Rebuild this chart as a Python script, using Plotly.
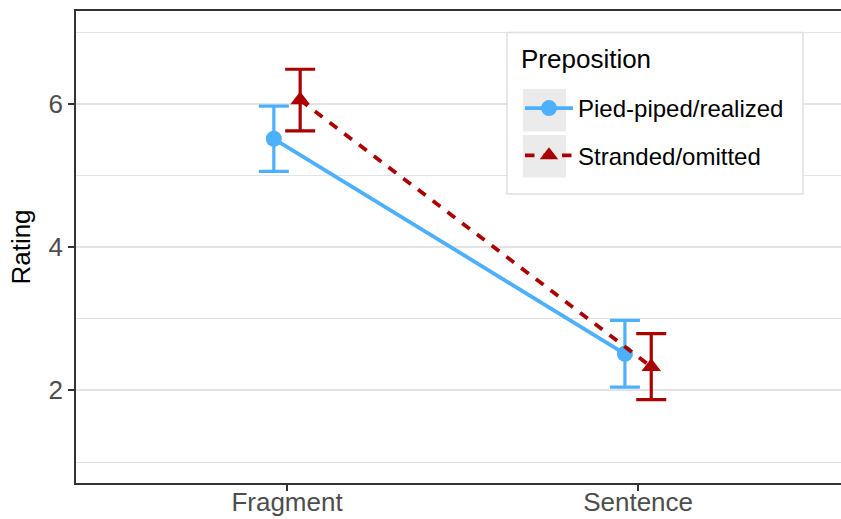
import plotly.graph_objects as go

categories = ["Fragment", "Sentence"]
series_names = ["Pied-piped/realized", "Stranded/omitted"]
pied_mean = [5.51, 2.51]
pied_err = [0.455, 0.465]
strand_mean = [6.05, 2.33]
strand_err = [0.43, 0.46]
y_ticks = [2, 4, 6]
legend_title = "Preposition"

colors = ["#4DB0FF", "#AA0000"]
dodge = 0.0375
FONT = "Liberation Sans, Arial, sans-serif"
L, R, T, B, W, H = 76, 0, 11, 36, 841, 519
PW, PH = W - L - R, H - T - B


def px(x):
    return (x - L) / PW


def py(y):
    return (H - B - y) / PH


fig = go.Figure()
specs = [
    (series_names[0], pied_mean, pied_err, colors[0], "circle", 16, "solid", -dodge),
    (series_names[1], strand_mean, strand_err, colors[1], "triangle-up", 17, "9.5px,9px", dodge),
]
for name, mean, err, col, sym, msize, dash, off in specs:
    xs = [i + 1 + off for i in range(len(categories))]
    fig.add_trace(go.Scatter(
        x=xs, y=mean, name=name, legendgroup=name,
        mode="lines+markers",
        line=dict(color=col, width=3.8, dash=dash),
        marker=dict(symbol=sym, size=msize, color=col),
        error_y=dict(type="data", array=err, visible=True, color=col,
                     thickness=3.2, width=15),
    ))

# legend box and key backgrounds (styling)
fig.add_shape(type="rect", xref="paper", yref="paper",
              x0=px(507), x1=px(803), y0=py(194), y1=py(32.5),
              line=dict(color="#E0E0E0", width=1.5), fillcolor="white", layer="above")
for top, bot in [(89, 131.5), (135, 177.5)]:
    fig.add_shape(type="rect", xref="paper", yref="paper",
                  x0=px(523), x1=px(566), y0=py(bot), y1=py(top),
                  line=dict(width=0), fillcolor="#EBEBEB", layer="above")
fig.add_annotation(text=legend_title, xref="paper", yref="paper",
                   x=px(519), y=py(59), xanchor="left", yanchor="middle",
                   showarrow=False, font=dict(size=26, color="black", family=FONT))

fig.update_layout(
    width=W, height=H, autosize=False,
    margin=dict(l=L, r=R, t=T, b=B),
    paper_bgcolor="white", plot_bgcolor="white",
    font=dict(family=FONT, color="black"),
    showlegend=True,
    legend=dict(
        font=dict(size=24, color="black"),
        bgcolor="rgba(0,0,0,0)", borderwidth=0,
        x=px(520), y=py(86), xanchor="left", yanchor="top",
        traceorder="grouped", tracegroupgap=13, itemwidth=48,
    ),
    xaxis=dict(
        range=[0.399, 2.578], tickvals=[1, 2], ticktext=categories,
        showgrid=False, zeroline=False, automargin=False,
        showline=True, linecolor="#333333", linewidth=1.5, mirror=True,
        ticks="outside", ticklen=6, tickwidth=2, tickcolor="#333333",
        tickfont=dict(size=26, color="#4D4D4D"), ticklabelstandoff=-11,
    ),
    yaxis=dict(
        range=[0.707, 7.293], tickvals=y_ticks,
        showgrid=True, gridcolor="#E3E3E3", gridwidth=1.5,
        minor=dict(dtick=1, tick0=1, showgrid=True, gridcolor="#E3E3E3", gridwidth=1.2),
        zeroline=False, automargin=False,
        showline=True, linecolor="#333333", linewidth=1.5,
        ticks="outside", ticklen=6, tickwidth=2, tickcolor="#333333",
        tickfont=dict(size=26, color="#4D4D4D"),
        title=dict(text="Rating", font=dict(size=26, color="black"), standoff=10),
    ),
)

post = ("document.body.style.margin='0';document.body.style.overflow='hidden';"
        "var gd=document.getElementById('{plot_id}');"
        "Plotly.relayout(gd,{width:%d,height:%d});" % (W, H))
fig.write_html("out.html", post_script=post,
               config={"responsive": False, "displayModeBar": False})
